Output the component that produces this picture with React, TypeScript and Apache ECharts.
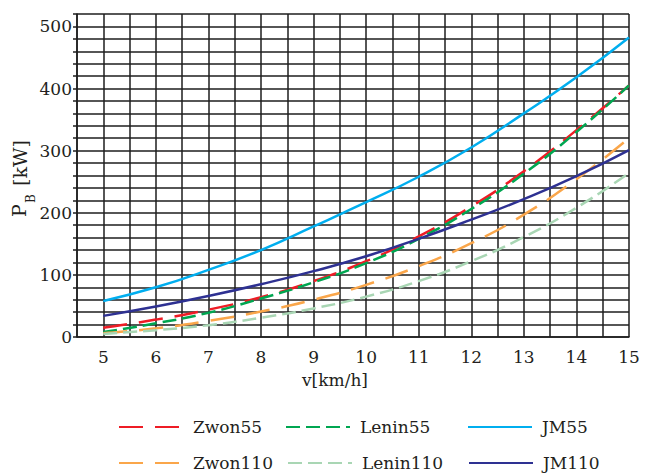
import React, { useEffect, useRef } from "react";
import * as echarts from "echarts";

const speeds = [5, 6, 7, 8, 9, 10, 11, 12, 13, 14, 15];
const zwon55 = [15, 28, 44, 64, 90, 122, 162, 210, 267, 333, 405];
const lenin55 = [8, 22, 39, 62, 88, 119, 158, 206, 263, 330, 405];
const jm55 = [58, 80, 108, 140, 178, 217, 258, 305, 360, 418, 482];
const zwon110 = [6, 14, 26, 41, 60, 84, 114, 151, 197, 254, 320];
const lenin110 = [5, 11, 19, 31, 46, 65, 90, 122, 161, 208, 264];
const jm110 = [34, 49, 66, 85, 106, 130, 158, 189, 222, 259, 301];

const seriesNames = ["Zwon55", "Lenin55", "JM55", "Zwon110", "Lenin110", "JM110"];
const seriesValues = [zwon55, lenin55, jm55, zwon110, lenin110, jm110];
const seriesColors = ["#ee1c25", "#00a651", "#00aeef", "#faa64a", "#a9d6b4", "#2e3192"];
const seriesDash: any[] = [[24, 12], [14, 6], "solid", [24, 12], [14, 6], "solid"];

const xTitle = "v[km/h]";
const yTitleMain = "P";
const yTitleSub = "B";
const yTitleUnit = " [kW]";

const TXT = "#231f20";
const FONT = "DejaVu Serif";

export default function App() {
  const ref = useRef<HTMLDivElement>(null);
  useEffect(() => {
    if (!ref.current) return;
    const chart = echarts.init(ref.current, null, { renderer: "svg" });
    const legendLeft = [113, 280, 462, 113, 282, 463];
    const legendTop = [413, 413, 413, 449, 449, 449];
    chart.setOption({
      animation: false,
      grid: { left: 77, right: 19, top: 14, bottom: 138 },
      xAxis: {
        type: "value",
        min: 4.5,
        max: 15,
        interval: 0.5,
        axisLine: { show: true, lineStyle: { color: "#1e1e1e", width: 1.5 } },
        axisTick: { show: false },
        splitLine: { show: true, lineStyle: { color: "#1e1e1e", width: 1.5 } },
        axisLabel: {
          fontFamily: FONT,
          fontSize: 17,
          color: TXT,
          margin: 11,
          formatter: (v: number) => (Number.isInteger(v) && v >= 5 ? String(v) : ""),
        },
      },
      yAxis: {
        type: "value",
        min: 0,
        max: 520,
        interval: 20,
        axisLine: { show: true, lineStyle: { color: "#1e1e1e", width: 1.5 } },
        axisTick: { show: true, length: 4, lineStyle: { color: "#1e1e1e", width: 1.5 } },
        splitLine: { show: true, lineStyle: { color: "#1e1e1e", width: 1.5 } },
        axisLabel: {
          fontFamily: FONT,
          fontSize: 17,
          color: TXT,
          margin: 5,
          formatter: (v: number) => (v % 100 === 0 ? String(v) : ""),
        },
      },
      legend: seriesNames.map((n, i) => ({
        data: [n],
        left: legendLeft[i],
        top: legendTop[i],
        itemWidth: 64,
        itemHeight: 12,
        selectedMode: false,
        itemStyle: { opacity: 0 },
        textStyle: { fontFamily: FONT, fontSize: 17, lineHeight: 18, color: TXT, padding: [0, 0, 0, 5] },
      })),
      series: seriesNames.map((n, i) => ({
        name: n,
        type: "line",
        smooth: true,
        symbol: "none",
        data: speeds.map((s, j) => [s, seriesValues[i][j]]),
        lineStyle: { color: seriesColors[i], width: 2.5, type: seriesDash[i] },
        itemStyle: { color: seriesColors[i] },
        z: 3,
      })),
      graphic: [
        {
          type: "text",
          left: 302,
          top: 371,
          style: { text: xTitle, fontFamily: FONT, fontSize: 17, fill: TXT },
        },
        {
          type: "text",
          x: 19,
          y: 217,
          rotation: Math.PI / 2,
          style: { text: yTitleMain, fontFamily: FONT, fontSize: 19, fill: TXT, align: "left", verticalAlign: "middle" },
        },
        {
          type: "text",
          x: 31,
          y: 203,
          rotation: Math.PI / 2,
          style: { text: yTitleSub, fontFamily: FONT, fontSize: 12, fill: TXT, align: "left", verticalAlign: "middle" },
        },
        {
          type: "text",
          x: 20,
          y: 192,
          rotation: Math.PI / 2,
          style: { text: yTitleUnit, fontFamily: FONT, fontSize: 19, fill: TXT, align: "left", verticalAlign: "middle" },
        },
      ],
    });
    return () => chart.dispose();
  }, []);
  return (
    <div
      ref={ref}
      style={{ position: "fixed", left: 0, top: 0, width: 648, height: 475, background: "#fff" }}
    />
  );
}
